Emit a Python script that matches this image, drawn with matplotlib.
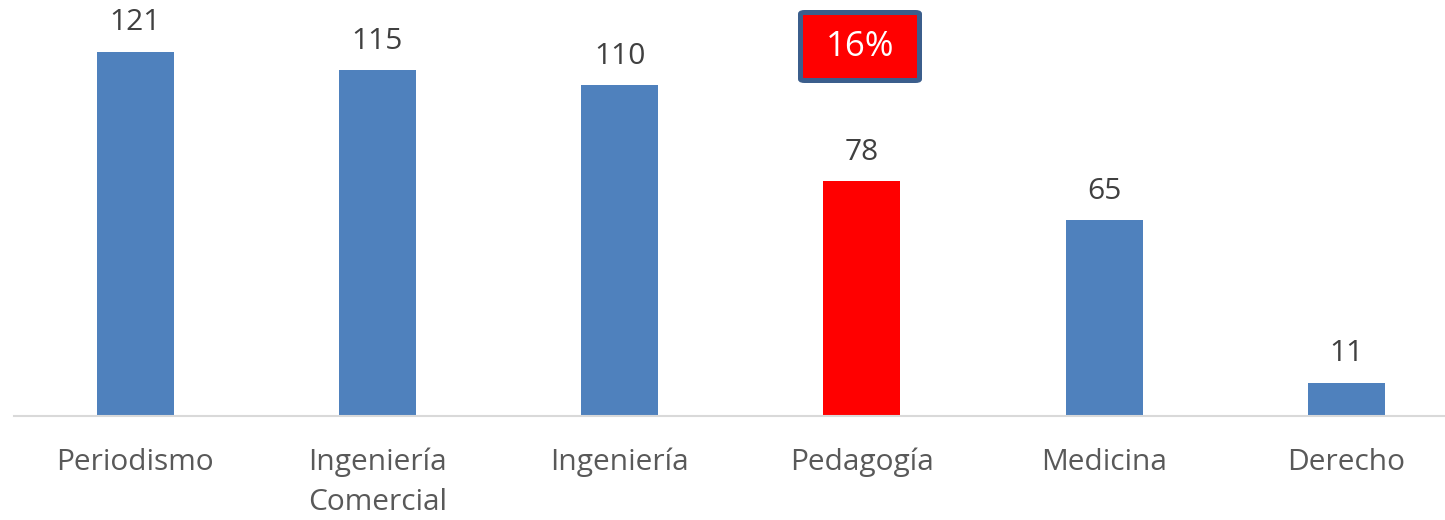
import matplotlib
matplotlib.use("Agg")
import matplotlib.pyplot as plt
from matplotlib.patches import FancyBboxPatch

categories = ["Periodismo", "Ingeniería\nComercial", "Ingeniería", "Pedagogía", "Medicina", "Derecho"]
values = [121, 115, 110, 78, 65, 11]
highlight = "Pedagogía"
badge_text = "16%"

W, H = 1445, 520
fig = plt.figure(figsize=(W / 100, H / 100), dpi=100)
plt.rcParams['font.family'] = ['Open Sans', 'DejaVu Sans']

base_px = 416
ax = fig.add_axes([14.4 / W, (H - base_px) / H, 1 - 14.4 / W, base_px / H])
colors = ["#FF0000" if c == highlight else "#4F81BD" for c in categories]
x = list(range(len(categories)))
ax.bar(x, values, width=0.318, color=colors, zorder=2)
ax.set_xlim(-0.498, 5.407)
ax.set_ylim(0, 138.3)

for xi, v in zip(x, values):
    ax.annotate(str(v), (xi, v), xytext=(0, 10.5), textcoords="offset points",
                ha="center", va="bottom", fontsize=21.5, color="#404040")

for s in ["top", "right", "left"]:
    ax.spines[s].set_visible(False)
ax.spines["bottom"].set_color("#D9D9D9")
ax.spines["bottom"].set_linewidth(1.5)
ax.set_yticks([])
ax.set_xticks(x)
ax.set_xticklabels(categories, fontsize=21.5, color="#595959", linespacing=1.5)
ax.tick_params(axis="x", length=0, pad=23)

# badge
bx0, by0, bx1, by1 = 800.5, 12.5, 919.5, 80.5
badge = FancyBboxPatch((bx0 / W, 1 - by1 / H), (bx1 - bx0) / W, (by1 - by0) / H,
                       boxstyle="round,pad=0,rounding_size=0.003",
                       transform=fig.transFigure, facecolor="#FF0000",
                       edgecolor="#3B5E8C", linewidth=3.6, zorder=5)
fig.patches.append(badge)
fig.text((bx0 + bx1) / 2 / W, 1 - (by0 + by1) / 2 / H, badge_text, ha="center", va="center",
         fontsize=25, color="white", zorder=6)

fig.savefig("out.png", dpi=100)
